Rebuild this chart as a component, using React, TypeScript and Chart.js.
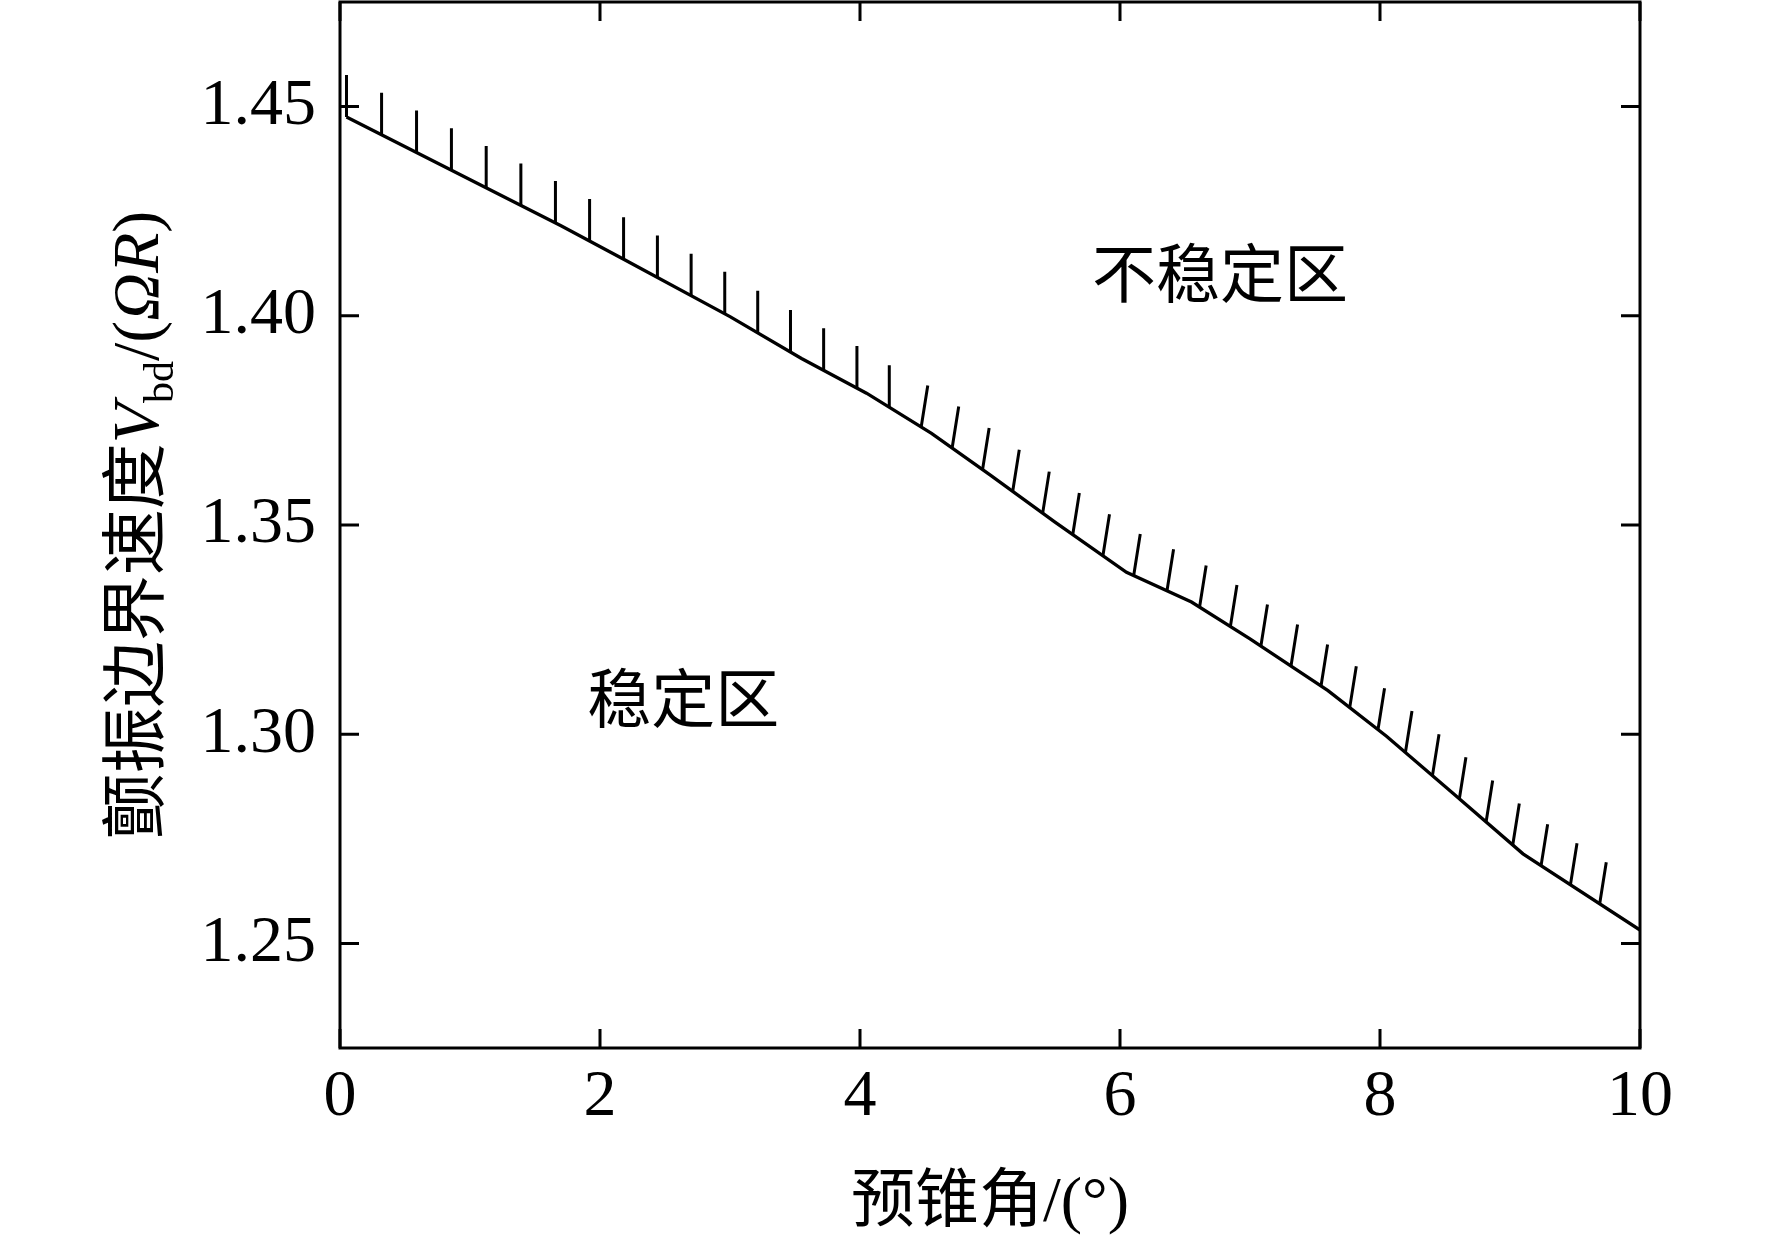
import React, { useEffect, useRef } from 'react';
import Chart from 'chart.js/auto';

// boundary line: pre-cone angle (deg) vs flutter boundary speed
const coneAngle = [0.05, 1.7, 2.2, 3.0, 3.55, 4.05, 4.55, 5.0, 5.5, 6.05, 6.55, 7.0, 7.6, 8.05, 8.55, 9.1, 10];
const boundarySpeed = [
  1.4475, 1.4215, 1.4132, 1.3998, 1.3898, 1.3815, 1.3719, 1.362, 1.3507, 1.3387, 1.3316, 1.3228, 1.3104,
  1.2995, 1.2862, 1.2714, 1.2532,
];

const xTicks = [0, 2, 4, 6, 8, 10];
const yTicks = [1.25, 1.3, 1.35, 1.4, 1.45];

const regionLabels = ['不稳定区', '稳定区'];
const regionX = [6.77, 2.64];
const regionY = [1.4085, 1.307];

const X_TITLE = '预锥角/(°)';

const SERIF = '"Liberation Serif", "Noto Sans CJK SC", serif';

// frame, inward ticks, hatching, region labels and axis titles
const decorPlugin = {
  id: 'decor',
  afterDatasetsDraw(chart: any, _args: any, opts: any) {
    const { ctx, chartArea: a, scales } = chart;
    const xs = scales.x;
    const ys = scales.y;

    // hatching along the boundary line (unstable side)
    const meta = chart.getDatasetMeta(0);
    const pts = meta.data.map((p: any) => ({ x: p.x, y: p.y }));
    const cum = [0];
    for (let i = 1; i < pts.length; i++) {
      cum.push(cum[i - 1] + Math.hypot(pts[i].x - pts[i - 1].x, pts[i].y - pts[i - 1].y));
    }
    // arc length at the last hatch
    const lastPx = xs.getPixelForValue(opts.hatchLastX);
    let arcEnd = 0;
    for (let i = 1; i < pts.length; i++) {
      if (pts[i].x >= lastPx) {
        const t = (lastPx - pts[i - 1].x) / (pts[i].x - pts[i - 1].x);
        arcEnd = cum[i - 1] + (cum[i] - cum[i - 1]) * t;
        break;
      }
    }
    const n = opts.hatchCount;
    const c = opts.hatchTaper;
    ctx.save();
    ctx.strokeStyle = '#000';
    ctx.lineWidth = opts.hatchWidth;
    ctx.beginPath();
    let seg = 0;
    for (let k = 0; k < n; k++) {
      const u = k / (n - 1);
      const s = arcEnd * (u + c * (u - u * u));
      while (seg < pts.length - 2 && cum[seg + 1] < s) seg++;
      const t = (s - cum[seg]) / (cum[seg + 1] - cum[seg]);
      const px = pts[seg].x + (pts[seg + 1].x - pts[seg].x) * t;
      const py = pts[seg].y + (pts[seg + 1].y - pts[seg].y) * t;
      const tilt = xs.getValueForPixel(px) > opts.tiltFrom ? (opts.tiltDeg * Math.PI) / 180 : 0;
      ctx.moveTo(px, py);
      ctx.lineTo(px + opts.hatchLength * Math.sin(tilt), py - opts.hatchLength * Math.cos(tilt));
    }
    ctx.stroke();

    // frame
    ctx.lineWidth = 3;
    ctx.strokeRect(a.left, a.top, a.right - a.left, a.bottom - a.top);

    // inward ticks on all four sides
    const tl = 19;
    ctx.beginPath();
    xTicks.forEach((v) => {
      const px = xs.getPixelForValue(v);
      ctx.moveTo(px, a.bottom);
      ctx.lineTo(px, a.bottom - tl);
      ctx.moveTo(px, a.top);
      ctx.lineTo(px, a.top + tl);
    });
    yTicks.forEach((v) => {
      const py = ys.getPixelForValue(v);
      ctx.moveTo(a.left, py);
      ctx.lineTo(a.left + tl, py);
      ctx.moveTo(a.right, py);
      ctx.lineTo(a.right - tl, py);
    });
    ctx.stroke();

    // region labels
    ctx.fillStyle = '#000';
    ctx.font = `64px ${SERIF}`;
    ctx.textAlign = 'center';
    ctx.textBaseline = 'middle';
    regionLabels.forEach((txt, i) => {
      ctx.fillText(txt, xs.getPixelForValue(regionX[i]), ys.getPixelForValue(regionY[i]));
    });
    ctx.restore();
  },
  afterDraw(chart: any) {
    const { ctx, chartArea: a } = chart;
    ctx.save();
    ctx.fillStyle = '#000';

    // x title
    ctx.font = `64px ${SERIF}`;
    ctx.textAlign = 'center';
    ctx.textBaseline = 'middle';
    ctx.fillText(X_TITLE, (a.left + a.right) / 2, 1204);

    // y title, rotated, with italic V and subscript
    const size = 66;
    const segs = [
      { t: '颤振边界速度', font: `${size}px ${SERIF}`, dy: 0 },
      { t: 'V', font: `italic ${size}px ${SERIF}`, dy: 0 },
      { t: 'bd', font: `42px ${SERIF}`, dy: 15 },
      { t: '/(', font: `${size}px ${SERIF}`, dy: 0 },
      { t: 'ΩR', font: `italic ${size}px ${SERIF}`, dy: 0 },
      { t: ')', font: `${size}px ${SERIF}`, dy: 0 },
    ];
    let total = 0;
    const widths = segs.map((s) => {
      ctx.font = s.font;
      const w = ctx.measureText(s.t).width;
      total += w;
      return w;
    });
    ctx.translate(133 + size * 0.38, (a.top + a.bottom) / 2);
    ctx.rotate(-Math.PI / 2);
    ctx.textAlign = 'left';
    ctx.textBaseline = 'alphabetic';
    let u = -total / 2;
    segs.forEach((s, i) => {
      ctx.font = s.font;
      ctx.fillText(s.t, u, s.dy);
      u += widths[i];
    });
    ctx.restore();
  },
};

const App: React.FC = () => {
  const chartRef = useRef<HTMLCanvasElement>(null);
  const chartInstance = useRef<Chart | null>(null);

  useEffect(() => {
    if (!chartRef.current) return;
    const ctx = chartRef.current.getContext('2d');
    if (!ctx) return;

    if (chartInstance.current) {
      chartInstance.current.destroy();
    }

    chartInstance.current = new Chart(ctx, {
      type: 'scatter',
      data: {
        datasets: [
          {
            label: 'boundary',
            data: coneAngle.map((x, i) => ({ x, y: boundarySpeed[i] })),
            showLine: true,
            borderColor: '#000',
            borderWidth: 3.3,
            pointRadius: 0,
            tension: 0,
          },
        ],
      },
      options: {
        responsive: false,
        animation: false,
        devicePixelRatio: 1,
        layout: {
          padding: { top: 2, right: 132, bottom: 0, left: 0 },
        },
        plugins: {
          legend: { display: false },
          tooltip: { enabled: false },
          decor: {
            hatchCount: 41,
            hatchLastX: 9.69,
            hatchTaper: 0.061,
            hatchLength: 42,
            hatchWidth: 3,
            tiltFrom: 4.3,
            tiltDeg: 9,
          },
        } as any,
        scales: {
          x: {
            type: 'linear',
            min: 0,
            max: 10,
            grid: { display: false, drawTicks: false },
            border: { display: false },
            afterBuildTicks: (scale: any) => {
              scale.ticks = xTicks.map((value) => ({ value }));
            },
            afterFit: (scale: any) => {
              scale.height = 195;
              scale.paddingLeft = 0;
              scale.paddingRight = 0;
            },
            ticks: {
              color: '#000',
              padding: 10,
              maxRotation: 0,
              font: { family: SERIF, size: 66 },
              callback: (v: any) => String(v),
            },
          },
          y: {
            type: 'linear',
            min: 1.225,
            max: 1.475,
            grid: { display: false, drawTicks: false },
            border: { display: false },
            afterBuildTicks: (scale: any) => {
              scale.ticks = yTicks.map((value) => ({ value }));
            },
            afterFit: (scale: any) => {
              scale.width = 340;
              scale.paddingTop = 0;
              scale.paddingBottom = 0;
            },
            ticks: {
              color: '#000',
              padding: 24,
              font: { family: SERIF, size: 66 },
              callback: (v: any) => Number(v).toFixed(2),
            },
          },
        },
      },
      plugins: [decorPlugin],
    });

    return () => {
      if (chartInstance.current) {
        chartInstance.current.destroy();
        chartInstance.current = null;
      }
    };
  }, []);

  return (
    <div style={{ position: 'absolute', left: 0, top: 0, width: 1772, height: 1243, background: '#fff' }}>
      <canvas ref={chartRef} width={1772} height={1243} style={{ width: 1772, height: 1243 }} />
    </div>
  );
};

export default App;
